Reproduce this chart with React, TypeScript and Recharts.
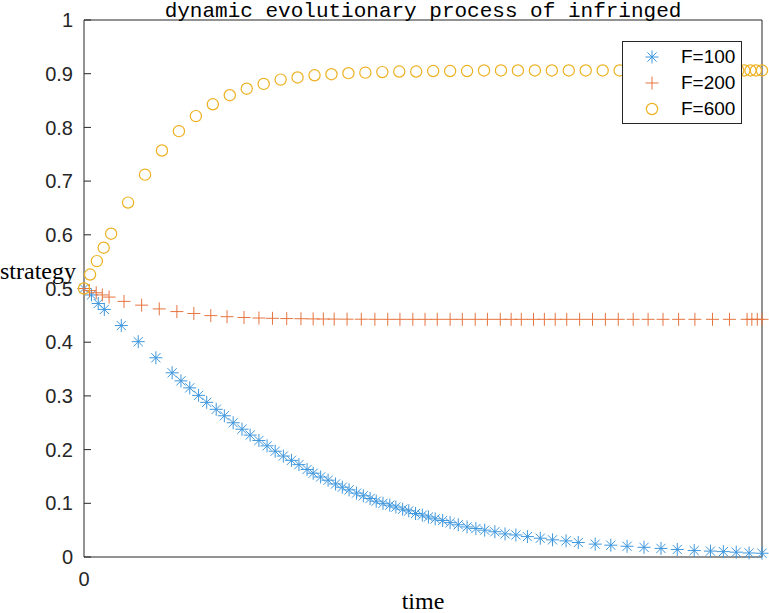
import { ScatterChart, Scatter, XAxis, YAxis, Legend, Label, ReferenceLine } from 'recharts'

// time grid of the ode solver output for each series, and the strategy value at each step
const timeF100 = [
  0, 0.11, 0.21, 0.3, 0.55, 0.8, 1.06, 1.3, 1.43, 1.56, 1.69, 1.81, 1.95, 2.07, 2.2, 2.33, 2.45,
  2.58, 2.7, 2.82, 2.94, 3.06, 3.17, 3.29, 3.38, 3.49, 3.6, 3.71, 3.81, 3.91, 4.02, 4.12, 4.22,
  4.31, 4.41, 4.51, 4.6, 4.7, 4.79, 4.89, 4.99, 5.08, 5.18, 5.29, 5.4, 5.52, 5.65, 5.78, 5.91,
  6.06, 6.21, 6.37, 6.54, 6.73, 6.91, 7.11, 7.29, 7.54, 7.77, 8.01, 8.26, 8.51, 8.75, 9.0, 9.24,
  9.43, 9.62, 9.81, 10,
]
const strategyF100 = [
  0.5, 0.488, 0.472, 0.461, 0.431, 0.401, 0.371, 0.343, 0.328, 0.315, 0.301, 0.288, 0.275, 0.263,
  0.25, 0.238, 0.227, 0.217, 0.207, 0.197, 0.188, 0.18, 0.172, 0.163, 0.156, 0.149, 0.143, 0.136,
  0.13, 0.125, 0.119, 0.114, 0.109, 0.104, 0.1, 0.0965, 0.093, 0.089, 0.086, 0.081, 0.078, 0.0745,
  0.071, 0.068, 0.064, 0.06, 0.056, 0.053, 0.05, 0.047, 0.043, 0.041, 0.038, 0.035, 0.032, 0.03,
  0.027, 0.024, 0.022, 0.02, 0.018, 0.016, 0.014, 0.012, 0.011, 0.01, 0.009, 0.0075, 0.007,
]

const timeF200 = [
  0, 0.08, 0.18, 0.27, 0.37, 0.59, 0.85, 1.11, 1.37, 1.62, 1.87, 2.11, 2.36, 2.58, 2.78, 2.99,
  3.2, 3.38, 3.53, 3.69, 3.88, 4.09, 4.29, 4.48, 4.66, 4.85, 5.03, 5.21, 5.4, 5.58, 5.77, 5.95,
  6.14, 6.3, 6.45, 6.63, 6.79, 6.95, 7.12, 7.31, 7.5, 7.69, 7.88, 8.1, 8.32, 8.54, 8.77, 9.01,
  9.27, 9.52, 9.78, 9.85, 9.93, 10,
]
const strategyF200 = [
  0.5, 0.496, 0.492, 0.488, 0.484, 0.476, 0.469, 0.462, 0.457, 0.4535, 0.4495, 0.4475, 0.446,
  0.445, 0.4445, 0.444, 0.4437, 0.4434, 0.4432, 0.443, 0.4429, 0.4428, 0.4427, 0.4426, 0.4426,
  0.4426, 0.4426, 0.4426, 0.4426, 0.4426, 0.4426, 0.4426, 0.4426, 0.4426, 0.4426, 0.4426, 0.4426,
  0.4426, 0.4426, 0.4426, 0.4426, 0.4426, 0.4426, 0.4426, 0.4426, 0.4426, 0.4426, 0.4426, 0.4426,
  0.4426, 0.4426, 0.4426, 0.4426, 0.4426,
]

const timeF600 = [
  0, 0.09, 0.19, 0.29, 0.4, 0.65, 0.9, 1.15, 1.4, 1.65, 1.9, 2.15, 2.4, 2.65, 2.9, 3.15, 3.4,
  3.65, 3.9, 4.15, 4.4, 4.65, 4.9, 5.15, 5.4, 5.65, 5.9, 6.15, 6.4, 6.65, 6.9, 7.15, 7.4, 7.65,
  7.9, 8.15, 8.4, 8.65, 8.9, 9.15, 9.4, 9.65, 9.74, 9.83, 9.91, 10,
]
const strategyF600 = [
  0.5, 0.526, 0.551, 0.576, 0.602, 0.66, 0.712, 0.757, 0.793, 0.821, 0.843, 0.86, 0.872, 0.881,
  0.889, 0.893, 0.897, 0.899, 0.901, 0.902, 0.903, 0.904, 0.904, 0.905, 0.905, 0.905, 0.906,
  0.906, 0.906, 0.906, 0.906, 0.906, 0.906, 0.906, 0.906, 0.906, 0.906, 0.906, 0.906, 0.906,
  0.906, 0.906, 0.906, 0.906, 0.906, 0.906,
]

const yTicks = [0, 0.1, 0.2, 0.3, 0.4, 0.5, 0.6, 0.7, 0.8, 0.9, 1]
const xTicks = [0]

const BLUE = '#3f97dd'
const RED = '#e6743f'
const GOLD = '#edb120'
const AXIS = '#262626'
const SANS = '"Liberation Sans", Arial, sans-serif'
const SERIF = '"Liberation Serif", "Times New Roman", serif'
const MONO = '"Liberation Mono", "DejaVu Sans Mono", monospace'

const toPoints = (ts: number[], vs: number[]) => ts.map((t, i) => ({ t, v: vs[i] }))

type MarkProps = { cx: number; cy: number; color: string }

// matlab-style '*' marker
function StarMark({ cx, cy, color }: MarkProps) {
  const r = 6.5
  const d = 4.6
  return (
    <g stroke={color} strokeWidth={1} fill="none">
      <line x1={cx - r} y1={cy} x2={cx + r} y2={cy} />
      <line x1={cx} y1={cy - r} x2={cx} y2={cy + r} />
      <line x1={cx - d} y1={cy - d} x2={cx + d} y2={cy + d} />
      <line x1={cx - d} y1={cy + d} x2={cx + d} y2={cy - d} />
    </g>
  )
}

function PlusMark({ cx, cy, color }: MarkProps) {
  const r = 6.5
  return (
    <g stroke={color} strokeWidth={1} fill="none">
      <line x1={cx - r} y1={cy} x2={cx + r} y2={cy} />
      <line x1={cx} y1={cy - r} x2={cx} y2={cy + r} />
    </g>
  )
}

function CircleMark({ cx, cy, color }: MarkProps) {
  return <circle cx={cx} cy={cy} r={5.6} stroke={color} strokeWidth={1.2} fill="none" />
}

const series = [
  { name: 'F=100', color: BLUE, Mark: StarMark, data: toPoints(timeF100, strategyF100) },
  { name: 'F=200', color: RED, Mark: PlusMark, data: toPoints(timeF200, strategyF200) },
  { name: 'F=600', color: GOLD, Mark: CircleMark, data: toPoints(timeF600, strategyF600) },
]

// inward tick on the right-hand box edge, no label
function RightTick({ x, y }: any) {
  return <line x1={x - 7} y1={y} x2={x} y2={y} stroke={AXIS} strokeWidth={1} />
}

function LegendBox() {
  return (
    <div
      style={{
        boxSizing: 'border-box',
        width: 120,
        height: 83,
        border: `1px solid ${AXIS}`,
        background: '#fff',
        paddingTop: 2,
      }}
    >
      {series.map(s => (
        <div key={s.name} style={{ display: 'flex', alignItems: 'center', height: 26 }}>
          <svg width={58} height={26} style={{ display: 'block' }}>
            <s.Mark cx={29} cy={13} color={s.color} />
          </svg>
          <span style={{ fontFamily: SANS, fontSize: 19, color: '#000', lineHeight: '26px' }}>{s.name}</span>
        </div>
      ))}
    </div>
  )
}

export default function App() {
  return (
    <div style={{ position: 'absolute', left: 0, top: 0, width: 769, height: 613, background: '#fff' }}>
      <ScatterChart width={769} height={613} margin={{ top: 20, right: 0, left: 0, bottom: 0 }}>
        <XAxis
          type="number"
          dataKey="t"
          domain={[0, 10]}
          ticks={xTicks}
          height={56}
          tickLine={false}
          tickSize={0}
          tickMargin={15}
          axisLine={{ stroke: AXIS }}
          tick={{ fill: AXIS, fontSize: 20, fontFamily: SANS }}
        >
          <Label
            content={({ viewBox }: any) => (
              <text
                x={viewBox.x + viewBox.width / 2}
                y={viewBox.y + viewBox.height - 4}
                textAnchor="middle"
                fontFamily={SERIF}
                fontSize={24}
                fill="#000"
              >
                time
              </text>
            )}
          />
        </XAxis>
        <YAxis
          type="number"
          dataKey="v"
          domain={[0, 1]}
          ticks={yTicks}
          interval={0}
          width={84}
          tickSize={-7}
          tickMargin={18}
          axisLine={{ stroke: AXIS }}
          tickLine={{ stroke: AXIS }}
          tick={{ fill: AXIS, fontSize: 20, fontFamily: SANS }}
        >
          <Label
            content={({ viewBox }: any) => (
              <text
                x={viewBox.x}
                y={viewBox.y + viewBox.height / 2 - 10}
                textAnchor="start"
                fontFamily={SERIF}
                fontSize={24}
                fill="#000"
              >
                strategy
              </text>
            )}
          />
        </YAxis>
        <YAxis
          yAxisId="right"
          orientation="right"
          type="number"
          domain={[0, 1]}
          ticks={yTicks}
          interval={0}
          width={7}
          tickSize={0}
          tickMargin={0}
          tickLine={false}
          tick={<RightTick />}
          axisLine={{ stroke: AXIS }}
        />
        {/* top edge of the box, carrying the title */}
        <ReferenceLine
          y={1}
          stroke={AXIS}
          ifOverflow="visible"
          label={
            <Label
              content={({ viewBox }: any) => (
                <text
                  x={viewBox.x + viewBox.width / 2}
                  y={viewBox.y - 3.5}
                  textAnchor="middle"
                  fontFamily={MONO}
                  fontSize={21}
                  fill="#000"
                >
                  dynamic evolutionary process of infringed
                </text>
              )}
            />
          }
        />
        <Legend
          layout="horizontal"
          verticalAlign="middle"
          align="center"
          wrapperStyle={{ left: 622, top: 41, width: 120, height: 83 }}
          content={() => <LegendBox />}
        />
        {series.map(s => (
          <Scatter
            key={s.name}
            name={s.name}
            data={s.data}
            isAnimationActive={false}
            shape={(p: any) => <s.Mark cx={p.cx} cy={p.cy} color={s.color} />}
          />
        ))}
      </ScatterChart>
    </div>
  )
}
